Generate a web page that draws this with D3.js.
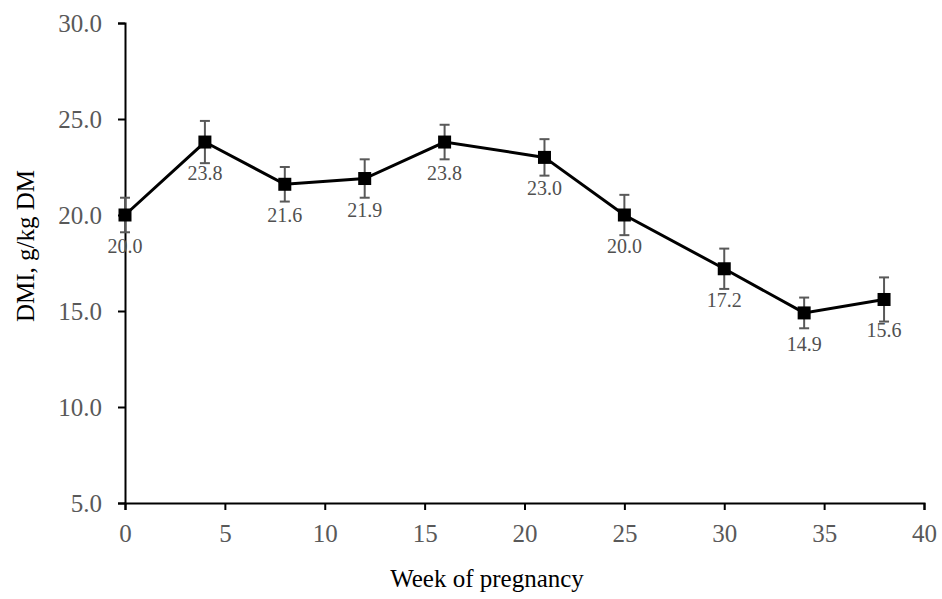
<!DOCTYPE html>
<html>
<head>
<meta charset="utf-8">
<script src="https://cdn.jsdelivr.net/npm/d3@7"></script>
<style>
  body { margin: 0; background: #fff; }
  text { font-family: "Liberation Serif", "Times New Roman", serif; }
</style>
</head>
<body>
<div id="chart"></div>
<script>
// data
var weeks = [0, 4, 8, 12, 16, 21, 25, 30, 34, 38]
var dmi = [20.0, 23.8, 21.6, 21.9, 23.8, 23.0, 20.0, 17.2, 14.9, 15.6]
var se = [0.9, 1.1, 0.9, 1.0, 0.9, 0.95, 1.05, 1.05, 0.8, 1.15]
var xTicks = [0, 5, 10, 15, 20, 25, 30, 35, 40]
var yTicks = [5, 10, 15, 20, 25, 30]

var width = 942, height = 599
var margin = { top: 23, right: 18, bottom: 96, left: 125 }

var svg = d3.select("#chart")
  .append("svg")
  .attr("width", width)
  .attr("height", height)

var xScale = d3.scaleLinear()
  .domain([0, 40])
  .range([margin.left, width - margin.right])

var yScale = d3.scaleLinear()
  .domain([5, 30])
  .range([height - margin.bottom, margin.top])

var rows = weeks.map(function(w, i) {
  return { week: w, value: dmi[i], se: se[i] }
})

// Y axis
var yAxis = d3.axisLeft(yScale)
  .tickValues(yTicks)
  .tickFormat(d3.format(".1f"))
  .tickSizeOuter(0)
  .tickSize(7)
  .tickPadding(16)

svg.append("g")
  .attr("transform", `translate(${margin.left},0)`)
  .attr("class", "y-axis")
  .call(yAxis)
  .call(g => g.selectAll("line, path").attr("stroke", "black").attr("stroke-width", 2))
  .selectAll("text")
  .attr("font-size", "25px")
  .attr("fill", "#595959")

// X axis
var xAxis = d3.axisBottom(xScale)
  .tickValues(xTicks)
  .tickSizeOuter(0)
  .tickSize(7)
  .tickPadding(14)

svg.append("g")
  .attr("transform", `translate(0,${height - margin.bottom})`)
  .attr("class", "x-axis")
  .call(xAxis)
  .call(g => g.selectAll("line, path").attr("stroke", "black").attr("stroke-width", 2))
  .selectAll("text")
  .attr("font-size", "25px")
  .attr("fill", "#595959")

// error bars
var bars = svg.append("g").attr("class", "errors")
  .attr("stroke", "#595959")
  .attr("stroke-width", 2)

bars.selectAll(".stem")
  .data(rows)
  .enter()
  .append("line")
  .attr("x1", d => xScale(d.week))
  .attr("x2", d => xScale(d.week))
  .attr("y1", d => yScale(d.value + d.se))
  .attr("y2", d => yScale(d.value - d.se))

;[1, -1].forEach(function(sign) {
  bars.selectAll(".cap" + sign)
    .data(rows)
    .enter()
    .append("line")
    .attr("x1", d => xScale(d.week) - 5)
    .attr("x2", d => xScale(d.week) + 5)
    .attr("y1", d => yScale(d.value + sign * d.se))
    .attr("y2", d => yScale(d.value + sign * d.se))
})

// line
var line = d3.line()
  .x(d => xScale(d.week))
  .y(d => yScale(d.value))

svg.append("path")
  .datum(rows)
  .attr("d", line)
  .attr("fill", "none")
  .attr("stroke", "black")
  .attr("stroke-width", 3)

// markers
svg.selectAll(".marker")
  .data(rows)
  .enter()
  .append("rect")
  .attr("x", d => xScale(d.week) - 6.5)
  .attr("y", d => yScale(d.value) - 6.5)
  .attr("width", 13)
  .attr("height", 13)
  .attr("fill", "black")

// value labels
svg.selectAll(".label")
  .data(rows)
  .enter()
  .append("text")
  .text(d => d3.format(".1f")(d.value))
  .attr("x", d => xScale(d.week))
  .attr("y", d => yScale(d.value) + 38)
  .attr("text-anchor", "middle")
  .attr("font-size", "20px")
  .attr("fill", "#505050")

// axis titles
svg.append("text")
  .text("Week of pregnancy")
  .attr("x", 487)
  .attr("y", 587)
  .attr("text-anchor", "middle")
  .attr("font-size", "25px")
  .attr("fill", "black")

svg.append("text")
  .text("DMI, g/kg DM")
  .attr("transform", "translate(34,246) rotate(-90)")
  .attr("text-anchor", "middle")
  .attr("font-size", "25px")
  .attr("fill", "black")
</script>
</body>
</html>
